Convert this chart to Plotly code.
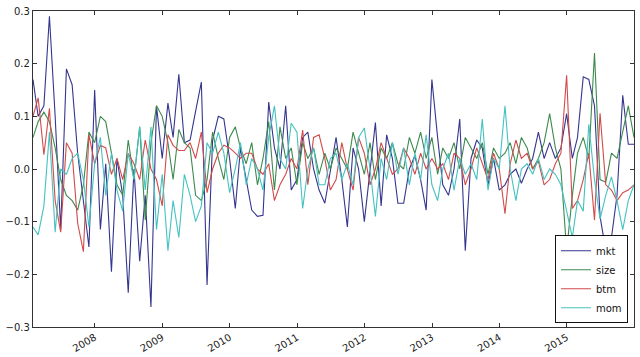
import pandas as pd
import plotly.graph_objects as go

dates = pd.date_range("2007-02-01", periods=108, freq="MS") - pd.Timedelta(days=1)

mkt = [0.17, 0.10, 0.12, 0.29, 0.10, -0.115, 0.19, 0.16, 0.03, -0.06, -0.148, 0.15,
       -0.115, 0.01, -0.195, 0.02, -0.05, -0.235, 0.0, -0.175, -0.05, -0.262, 0.12, 0.02,
       0.125, 0.06, 0.18, 0.05, 0.055, 0.11, 0.165, -0.22, 0.055, 0.10, 0.095, 0.02,
       -0.075, 0.04, -0.02, -0.078, -0.09, -0.088, 0.127, 0.04, 0.0, 0.12, -0.04, -0.02,
       0.06, 0.07, 0.0, -0.04, -0.065, 0.0, 0.06, -0.02, -0.11, 0.04, 0.0, -0.10,
       0.0, 0.088, -0.07, 0.065, 0.02, -0.065, -0.065, 0.0, 0.025, -0.02, -0.078, 0.17,
       0.06, -0.03, -0.05, 0.0, 0.095, -0.155, 0.02, 0.055, 0.04, -0.03, 0.02, -0.04,
       -0.03, -0.01, 0.0, -0.027, 0.0, 0.02, 0.07, 0.02, 0.05, 0.02, 0.04, 0.105,
       0.02, 0.06, 0.175, 0.17, 0.12, -0.09, -0.155, -0.13, -0.05, 0.14, 0.047, 0.047]

size = [0.06, 0.09, 0.108, 0.09, 0.04, -0.02, -0.05, -0.06, -0.078, -0.03, 0.07, 0.05,
        0.10, 0.09, 0.03, -0.03, -0.05, 0.055, -0.02, 0.08, -0.097, 0.05, 0.12, 0.10,
        0.05, -0.02, 0.075, 0.05, 0.04, -0.05, -0.06, -0.02, 0.07, 0.02, -0.02, 0.06,
        0.08, 0.04, 0.01, 0.05, -0.03, 0.02, 0.09, -0.04, 0.08, 0.02, 0.04, -0.03,
        0.05, 0.02, 0.04, -0.01, 0.03, 0.0, 0.04, 0.02, 0.0, 0.07, 0.03, -0.01,
        0.05, -0.02, 0.04, 0.02, 0.05, 0.01, 0.0, 0.06, 0.03, 0.07, 0.02, 0.06,
        -0.01, 0.04, 0.02, 0.05, 0.0, 0.06, 0.04, 0.02, 0.05, -0.01, 0.04, 0.02,
        0.03, 0.05, 0.01, 0.06, 0.04, 0.0, 0.02, 0.05, 0.105, 0.04, 0.0, -0.155,
        -0.05, 0.03, 0.06, 0.02, 0.22, -0.02, -0.025, 0.03, 0.02, 0.07, 0.12, 0.06]

btm = [0.10, 0.135, 0.027, 0.115, -0.06, -0.12, 0.05, 0.03, -0.103, -0.157, 0.065, 0.01,
       0.045, 0.04, -0.01, 0.02, -0.02, 0.03, 0.01, -0.02, 0.055, 0.0, -0.02, -0.07,
       0.065, 0.045, 0.035, 0.035, 0.05, 0.02, 0.07, -0.045, 0.0, 0.03, 0.045, 0.04,
       0.03, 0.02, 0.03, 0.03, 0.0, -0.01, 0.01, -0.06, -0.03, -0.01, 0.02, 0.0,
       0.074, -0.03, 0.06, 0.065, 0.02, -0.04, -0.02, 0.05, 0.0, -0.04, 0.06, 0.03,
       -0.03, 0.0, 0.05, 0.02, -0.01, 0.0, 0.04, 0.02, -0.01, 0.03, 0.0, 0.02,
       0.0, 0.01, -0.02, 0.03, 0.02, -0.03, 0.0, 0.04, 0.01, -0.02, 0.03, 0.0,
       -0.085, 0.01, 0.055, 0.02, 0.03, 0.0, 0.015, -0.03, -0.02, 0.01, 0.03, 0.178,
       -0.075, -0.06, -0.02, 0.03, -0.097, 0.106, -0.03, -0.04, -0.06, -0.045, -0.04, -0.03]

mom = [-0.11, -0.125, -0.07, 0.07, -0.12, 0.0, -0.01, 0.02, 0.03, -0.02, -0.11, 0.01,
       0.06, -0.05, 0.03, -0.04, -0.08, 0.03, -0.02, 0.08, -0.04, 0.08, -0.115, -0.01,
       -0.155, -0.06, -0.13, -0.01, -0.05, -0.10, -0.07, 0.05, 0.03, 0.07, 0.03, -0.045,
       0.0, 0.05, -0.03, 0.02, 0.0, -0.04, 0.06, 0.12, 0.02, 0.0, 0.087, 0.07,
       -0.075, 0.0, 0.04, -0.03, -0.03, 0.02, 0.03, -0.02, 0.01, -0.03, 0.06, 0.078,
       0.0, -0.09, 0.02, -0.02, 0.05, -0.01, 0.04, -0.03, 0.03, -0.02, 0.065, -0.03,
       -0.06, 0.0, 0.03, -0.04, 0.02, -0.01, 0.01, -0.02, 0.095, -0.04, 0.02, 0.0,
       0.12, 0.0, -0.06, 0.0, 0.01, -0.01, 0.02, -0.02, 0.0, -0.01, -0.03, -0.08,
       -0.13, -0.06, -0.08, 0.085, -0.02, -0.095, -0.05, -0.015, -0.06, -0.115, -0.06, -0.03]

series_names = ["mkt", "size", "btm", "mom"]
series_values = [mkt, size, btm, mom]
series_colors = ["#35358f", "#3d8a4f", "#d24a4a", "#45c2c0"]

year_ticks = [f"{y}-01-01" for y in range(2008, 2016)]
year_labels = [str(y) for y in range(2008, 2016)]
y_ticks = [-0.3, -0.2, -0.1, 0.0, 0.1, 0.2, 0.3]
y_labels = ["\u22120.3", "\u22120.2", "\u22120.1", "0.0", "0.1", "0.2", "0.3"]

fig = go.Figure()
for name, vals, col in zip(series_names, series_values, series_colors):
    fig.add_trace(go.Scatter(x=dates, y=vals, mode="lines", name=name,
                             line=dict(color=col, width=1.1)))

fig.update_layout(
    width=640, height=357,
    margin=dict(l=33, r=6, t=11, b=30, autoexpand=False),
    paper_bgcolor="white", plot_bgcolor="white",
    font=dict(family="DejaVu Sans", size=10, color="#222222"),
    showlegend=True,
    legend=dict(x=0.99, y=0.012, xanchor="right", yanchor="bottom",
                bordercolor="#111111", borderwidth=1, bgcolor="white",
                font=dict(size=10, color="#111111"), tracegroupgap=0,
                itemwidth=30),
)
fig.update_xaxes(range=[dates[0], dates[-1]], tickvals=year_ticks, ticktext=year_labels,
                 tickangle=-30, ticks="inside", ticklen=4, tickcolor="#333333",
                 showline=True, linecolor="#333333", linewidth=1.2, mirror="allticks",
                 showgrid=False, zeroline=False, tickfont=dict(size=10), automargin=False)
fig.update_yaxes(range=[-0.3, 0.3], tickvals=y_ticks, ticktext=y_labels,
                 ticks="inside", ticklen=4, tickcolor="#333333",
                 showline=True, linecolor="#333333", linewidth=1.2, mirror="allticks",
                 showgrid=False, zeroline=False, tickfont=dict(size=10), automargin=False)

# remove the default 8px page margin so the figure fills the 640x357 window
fig.write_html("out.html", config={"displayModeBar": False},
               post_script="document.body.style.margin='0px';document.documentElement.style.margin='0px';")
